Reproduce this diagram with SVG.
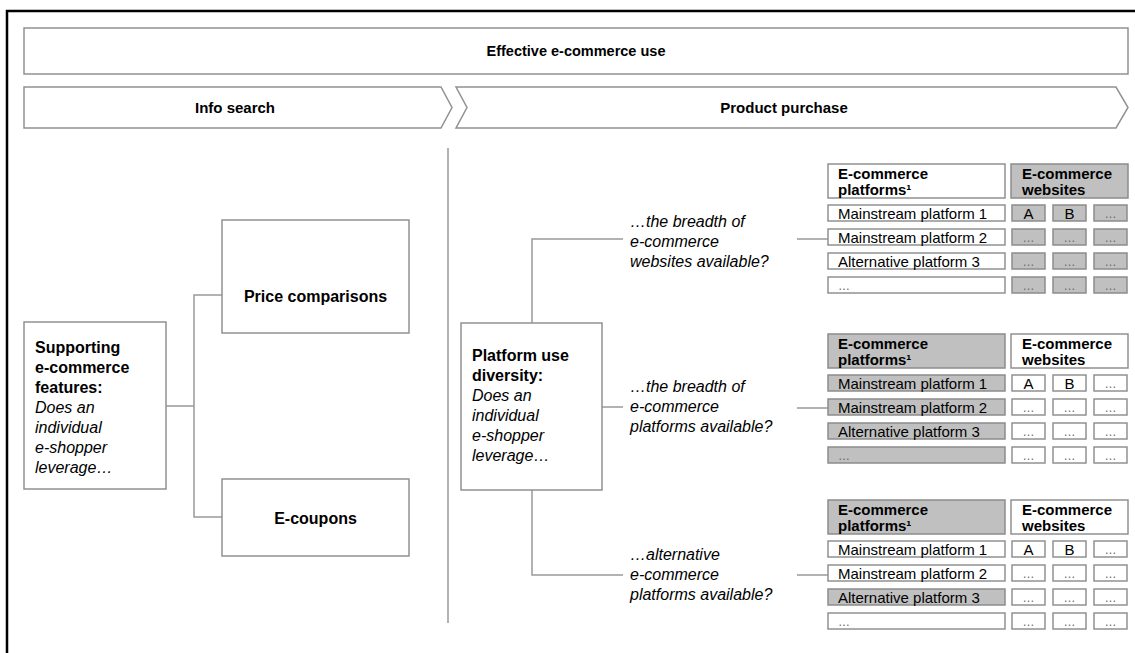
<svg xmlns="http://www.w3.org/2000/svg" width="1135" height="653" viewBox="0 0 1135 653">
<style>
.frame{fill:none;stroke:#000;stroke-width:2.5}
.box{fill:#fff;stroke:#919191;stroke-width:1.5}
.gbox{fill:#c0c0c0;stroke:#8c8c8c;stroke-width:1.5}
.ln{fill:none;stroke:#999;stroke-width:1.5}
text{font-family:"Liberation Sans",Arial,sans-serif;fill:#000}
.h{font-size:16px;font-weight:bold}
.title{font-size:14.5px;font-weight:bold}
.ph{font-size:15px;font-weight:bold}
.t{font-size:16px}
.b{font-weight:bold}
.i{font-style:italic}
.th{font-size:15px;font-weight:bold}
.td{font-size:15px}
.dots{font-size:12px;fill:#666}
.c{text-anchor:middle}
</style>
<defs>
<g id="rowsP">
<rect x="828" y="205" width="177" height="16"/>
<rect x="828" y="229" width="177" height="16"/>
<rect x="828" y="253" width="177" height="16"/>
<rect x="828" y="277" width="177" height="16"/>
</g>
<g id="cellsW">
<rect x="1012" y="205" width="33" height="16"/><rect x="1053" y="205" width="33" height="16"/><rect x="1094" y="205" width="33" height="16"/>
<rect x="1012" y="229" width="33" height="16"/><rect x="1053" y="229" width="33" height="16"/><rect x="1094" y="229" width="33" height="16"/>
<rect x="1012" y="253" width="33" height="16"/><rect x="1053" y="253" width="33" height="16"/><rect x="1094" y="253" width="33" height="16"/>
<rect x="1012" y="277" width="33" height="16"/><rect x="1053" y="277" width="33" height="16"/><rect x="1094" y="277" width="33" height="16"/>
</g>
<g id="tableText">
<text class="th" x="838" y="179">E-commerce</text>
<text class="th" x="838" y="195">platforms¹</text>
<text class="th" x="1022" y="179">E-commerce</text>
<text class="th" x="1022" y="195">websites</text>
<text class="td" x="838" y="219">Mainstream platform 1</text>
<text class="td" x="838" y="243">Mainstream platform 2</text>
<text class="td" x="838" y="267">Alternative platform 3</text>
<text class="dots" x="838" y="290">…</text>
<text class="td c" x="1028.5" y="219">A</text>
<text class="td c" x="1069.5" y="219">B</text>
<text class="dots c" x="1110.5" y="218">…</text>
<text class="dots c" x="1028.5" y="242">…</text><text class="dots c" x="1069.5" y="242">…</text><text class="dots c" x="1110.5" y="242">…</text>
<text class="dots c" x="1028.5" y="266">…</text><text class="dots c" x="1069.5" y="266">…</text><text class="dots c" x="1110.5" y="266">…</text>
<text class="dots c" x="1028.5" y="290">…</text><text class="dots c" x="1069.5" y="290">…</text><text class="dots c" x="1110.5" y="290">…</text>
</g>
</defs>

<rect class="frame" x="7" y="11" width="1140" height="660"/>

<g id="banner">
<rect class="box" x="24" y="28" width="1104" height="46"/>
<text class="title c" x="576" y="56">Effective e-commerce use</text>
</g>
<g id="phase-info">
<polygon class="box" points="24,87 441,87 452,107.5 441,128 24,128"/>
<text class="ph c" x="235" y="113">Info search</text>
</g>
<g id="phase-purchase">
<polygon class="box" points="456,87 1116,87 1128,107.5 1116,128 456,128 467,107.5"/>
<text class="ph c" x="784" y="113">Product purchase</text>
</g>

<g id="connectors">
<line class="ln" x1="448" y1="148" x2="448" y2="623"/>
<polyline class="ln" points="166,406 194,406"/>
<polyline class="ln" points="222,295 194,295 194,517 222,517"/>
<polyline class="ln" points="532,323 532,239 623,239"/>
<line class="ln" x1="602" y1="407" x2="623" y2="407"/>
<polyline class="ln" points="532,490 532,575 623,575"/>
<line class="ln" x1="797" y1="239" x2="828" y2="239"/>
<line class="ln" x1="797" y1="408" x2="828" y2="408"/>
<line class="ln" x1="797" y1="575" x2="828" y2="575"/>
</g>

<g id="supporting">
<rect class="box" x="24" y="322" width="142" height="167"/>
<text class="t" x="35" y="353"><tspan class="b">Supporting</tspan><tspan class="b" x="35" dy="20">e-commerce</tspan><tspan class="b" x="35" dy="20">features:</tspan><tspan class="i" x="35" dy="20">Does an</tspan><tspan class="i" x="35" dy="20">individual</tspan><tspan class="i" x="35" dy="20">e-shopper</tspan><tspan class="i" x="35" dy="20">leverage…</tspan></text>
</g>
<g id="price">
<rect class="box" x="222" y="220" width="187" height="113"/>
<text class="h c" x="315.5" y="302">Price comparisons</text>
</g>
<g id="ecoupons">
<rect class="box" x="222" y="479" width="187" height="77"/>
<text class="h c" x="315.5" y="524">E-coupons</text>
</g>

<g id="platform-diversity">
<rect class="box" x="461" y="323" width="141" height="167"/>
<text class="t" x="472" y="361"><tspan class="b">Platform use</tspan><tspan class="b" x="472" dy="20">diversity:</tspan><tspan class="i" x="472" dy="20">Does an</tspan><tspan class="i" x="472" dy="20">individual</tspan><tspan class="i" x="472" dy="20">e-shopper</tspan><tspan class="i" x="472" dy="20">leverage…</tspan></text>
</g>

<g id="q-websites">
<text class="t i" x="630" y="227">…the breadth of<tspan x="630" dy="20">e-commerce</tspan><tspan x="630" dy="20">websites available?</tspan></text>
</g>
<g id="q-platforms">
<text class="t i" x="630" y="392">…the breadth of<tspan x="630" dy="20">e-commerce</tspan><tspan x="630" dy="20">platforms available?</tspan></text>
</g>
<g id="q-alternative">
<text class="t i" x="630" y="560">…alternative<tspan x="630" dy="20">e-commerce</tspan><tspan x="630" dy="20">platforms available?</tspan></text>
</g>

<g id="table-websites">
<rect class="box" x="828" y="164" width="177" height="34"/>
<rect class="gbox" x="1011" y="164" width="117" height="34"/>
<use href="#rowsP" class="box"/>
<use href="#cellsW" class="gbox"/>
<use href="#tableText"/>
</g>
<g id="table-platforms" transform="translate(0,170)">
<rect class="gbox" x="828" y="164" width="177" height="34"/>
<rect class="box" x="1011" y="164" width="117" height="34"/>
<use href="#rowsP" class="gbox"/>
<use href="#cellsW" class="box"/>
<use href="#tableText"/>
</g>
<g id="table-alternative" transform="translate(0,336)">
<rect class="gbox" x="828" y="164" width="177" height="34"/>
<rect class="box" x="1011" y="164" width="117" height="34"/>
<rect class="box" x="828" y="205" width="177" height="16"/>
<rect class="box" x="828" y="229" width="177" height="16"/>
<rect class="gbox" x="828" y="253" width="177" height="16"/>
<rect class="box" x="828" y="277" width="177" height="16"/>
<use href="#cellsW" class="box"/>
<use href="#tableText"/>
</g>
</svg>
